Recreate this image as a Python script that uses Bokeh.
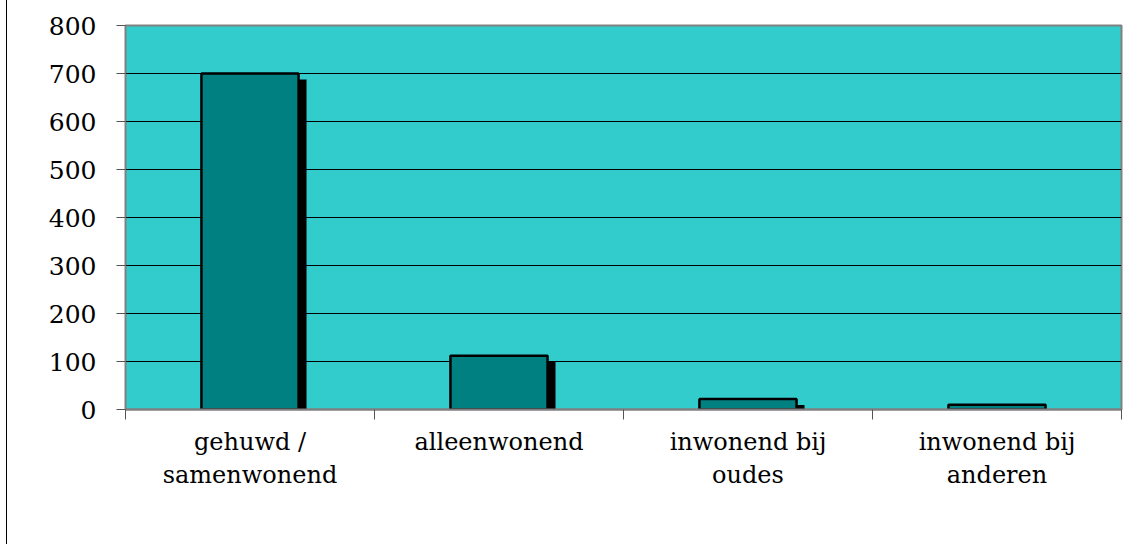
from bokeh.plotting import figure
from bokeh.models import FixedTicker, Range1d, ColumnDataSource
from bokeh.embed import file_html
from bokeh.resources import INLINE

categories = ["gehuwd /\nsamenwonend", "alleenwonend", "inwonend bij\noudes", "inwonend bij\nanderen"]
values = [700, 112, 22, 10]
y_ticks = [0, 100, 200, 300, 400, 500, 600, 700, 800]

FONT = "DejaVu Serif"
n = len(categories)
centers = [i + 0.5 for i in range(n)]
bar_w = 0.39
sx = 0.032   # shadow offset in data units (x)
sy = 12.5    # shadow offset in data units (y)

p = figure(width=1121, height=544, output_backend="svg", toolbar_location=None,
           x_range=Range1d(0, n), y_range=Range1d(0, 800),
           min_border_left=118, min_border_right=7, min_border_top=25, min_border_bottom=135)
p.background_fill_color = "#33CCCC"
p.border_fill_color = "white"
p.outline_line_color = "#808080"
p.outline_line_width = 2
p.styles = {"margin-left": "6px", "border-left": "1px solid black"}

src = ColumnDataSource(dict(
    x=centers, top=values,
    sx=[c + sx for c in centers],
    stop=[max(v - sy, 0) for v in values],
))
p.vbar(x="sx", top="stop", bottom=0, width=bar_w, source=src,
       fill_color="black", line_color=None)
p.vbar(x="x", top="top", bottom=0, width=bar_w, source=src,
       fill_color="#008080", line_color="black", line_width=2.5)

# y axis
p.yaxis.ticker = FixedTicker(ticks=y_ticks)
p.yaxis.minor_tick_line_color = None
p.yaxis.major_tick_in = 0
p.yaxis.major_tick_out = 9
p.yaxis.major_tick_line_color = "#555555"
p.yaxis.axis_line_color = "#808080"
p.yaxis.major_label_text_font = FONT
p.yaxis.major_label_text_font_size = "25px"
p.yaxis.major_label_text_color = "black"
p.yaxis.major_label_standoff = 20
p.ygrid.ticker = FixedTicker(ticks=y_ticks)
p.ygrid.grid_line_color = "black"
p.ygrid.grid_line_width = 1

# x axis
p.xaxis.ticker = FixedTicker(ticks=centers, minor_ticks=list(range(n + 1)))
p.xaxis.major_label_overrides = {c: lab for c, lab in zip(centers, categories)}
p.xaxis.major_tick_line_color = None
p.xaxis.major_tick_in = 0
p.xaxis.major_tick_out = 0
p.xaxis.minor_tick_in = 0
p.xaxis.minor_tick_out = 10
p.xaxis.minor_tick_line_color = "#555555"
p.xaxis.axis_line_color = "#808080"
p.xaxis.axis_line_width = 2
p.xaxis.major_label_text_font = FONT
p.xaxis.major_label_text_font_size = "24px"
p.xaxis.major_label_text_color = "black"
p.xaxis.major_label_text_line_height = 1.2
p.xaxis.major_label_standoff = 8
p.xgrid.grid_line_color = None

open("out.html", "w").write(file_html(p, INLINE))
